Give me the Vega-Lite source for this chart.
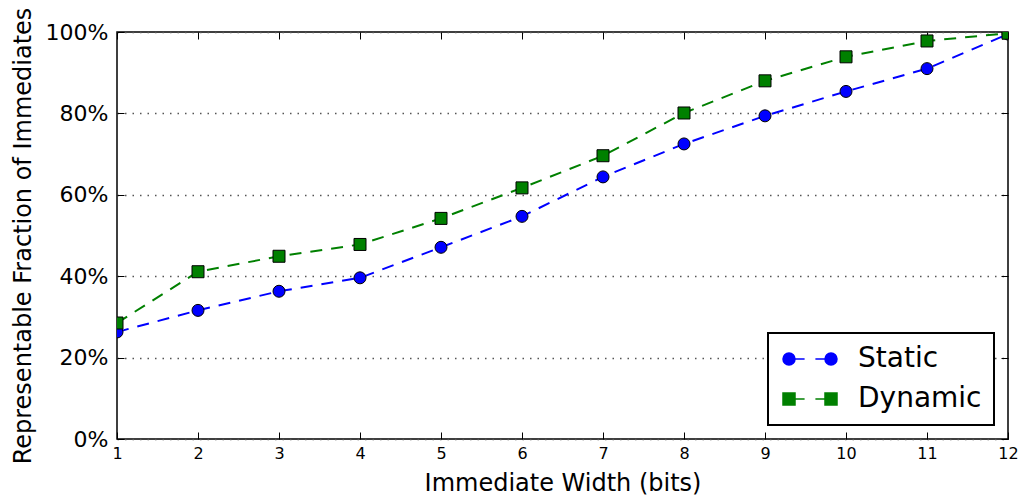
{
  "$schema": "https://vega.github.io/schema/vega-lite/v6.json",
  "autosize": {"type": "none"},
  "padding": {"left": 117, "top": 32, "right": 16, "bottom": 59},
  "width": 891,
  "height": 407,
  "config": {
    "font": "DejaVu Sans",
    "view": {"stroke": "black", "strokeWidth": 1.5},
    "axis": {"domain": false, "tickColor": "black", "tickWidth": 1, "labelColor": "black", "titleColor": "black", "labelFont": "DejaVu Sans", "titleFont": "DejaVu Sans", "titleFontWeight": "normal", "labelFlush": false}
  },
  "data": {
    "values": [
      {"w": 1, "series": "Static", "v": 0.263},
      {"w": 2, "series": "Static", "v": 0.316},
      {"w": 3, "series": "Static", "v": 0.363},
      {"w": 4, "series": "Static", "v": 0.396},
      {"w": 5, "series": "Static", "v": 0.471},
      {"w": 6, "series": "Static", "v": 0.547},
      {"w": 7, "series": "Static", "v": 0.644},
      {"w": 8, "series": "Static", "v": 0.725},
      {"w": 9, "series": "Static", "v": 0.794},
      {"w": 10, "series": "Static", "v": 0.854},
      {"w": 11, "series": "Static", "v": 0.910},
      {"w": 12, "series": "Static", "v": 0.995},
      {"w": 1, "series": "Dynamic", "v": 0.285},
      {"w": 2, "series": "Dynamic", "v": 0.411},
      {"w": 3, "series": "Dynamic", "v": 0.449},
      {"w": 4, "series": "Dynamic", "v": 0.478},
      {"w": 5, "series": "Dynamic", "v": 0.542},
      {"w": 6, "series": "Dynamic", "v": 0.617},
      {"w": 7, "series": "Dynamic", "v": 0.696},
      {"w": 8, "series": "Dynamic", "v": 0.801},
      {"w": 9, "series": "Dynamic", "v": 0.880},
      {"w": 10, "series": "Dynamic", "v": 0.939},
      {"w": 11, "series": "Dynamic", "v": 0.978},
      {"w": 12, "series": "Dynamic", "v": 0.997}
    ]
  },
  "resolve": {"axis": {"x": "independent", "y": "independent"}},
  "layer": [
    {
      "mark": {"type": "line", "strokeDash": [12, 9], "strokeWidth": 2, "clip": true},
      "encoding": {
        "x": {"field": "w", "type": "quantitative", "scale": {"domain": [1, 12], "nice": false, "zero": false},
          "axis": {"orient": "bottom", "title": "Immediate Width (bits)", "values": [1,2,3,4,5,6,7,8,9,10,11,12], "tickSize": -7, "labelPadding": 13, "labelFontSize": 16, "titleFontSize": 24, "titlePadding": 10, "grid": false}},
        "y": {"field": "v", "type": "quantitative", "scale": {"domain": [0, 1], "nice": false},
          "axis": {"orient": "left", "title": "Representable Fraction of Immediates", "format": ".0%", "values": [0, 0.2, 0.4, 0.6, 0.8, 1], "tickSize": -7, "labelPadding": 16, "labelFontSize": 22, "titleFontSize": 24, "titlePadding": 10, "grid": true, "gridColor": "#555", "gridDash": [1.5, 6], "gridWidth": 1.5}},
        "color": {"field": "series", "type": "nominal", "scale": {"domain": ["Static", "Dynamic"], "range": ["#0000ff", "#008000"]},
          "legend": {"title": null, "orient": "none", "legendX": 651, "legendY": 301, "fillColor": "white", "strokeColor": "black", "padding": 12, "rowPadding": 12, "symbolOffset": 16, "labelOffset": 34, "labelFontSize": 28, "labelFont": "DejaVu Sans", "labelColor": "black", "symbolSize": 144,
            "encode": {
              "legend": {"update": {"strokeWidth": {"value": 2}}},
              "symbols": {"update": {
              "shape": {"signal": "datum.value === 'Static' ? 'M-4.5,0A1,1,0,1,0,-2.5,0A1,1,0,1,0,-4.5,0ZM-2.5,0L-0.9,0M0.9,0L2.5,0M2.5,0A1,1,0,1,0,4.5,0A1,1,0,1,0,2.5,0Z' : 'M-4.5,-1L-2.5,-1L-2.5,1L-4.5,1ZM-2.5,0L-0.9,0M0.9,0L2.5,0M2.5,-1L4.5,-1L4.5,1L2.5,1Z'"},
              "fill": {"signal": "datum.value === 'Static' ? '#0000ff' : '#008000'"},
              "stroke": {"signal": "datum.value === 'Static' ? '#0000ff' : '#008000'"},
              "strokeWidth": {"value": 1.5},
              "strokeDash": {"value": []},
              "opacity": {"value": 1},
              "fillOpacity": {"value": 1}
            }}}}}
      }
    },
    {
      "transform": [{"filter": "datum.series === 'Static'"}],
      "mark": {"type": "point", "shape": "circle", "filled": true, "stroke": "black", "strokeWidth": 1, "opacity": 1, "clip": true, "size": 144},
      "encoding": {
        "x": {"field": "w", "type": "quantitative", "axis": {"orient": "top", "title": null, "labels": false, "values": [1,2,3,4,5,6,7,8,9,10,11,12], "tickSize": -7, "grid": false}},
        "y": {"field": "v", "type": "quantitative", "axis": {"orient": "right", "title": null, "labels": false, "values": [0, 0.2, 0.4, 0.6, 0.8, 1], "tickSize": -7, "grid": false}},
        "color": {"field": "series", "type": "nominal"}
      }
    },
    {
      "transform": [{"filter": "datum.series === 'Dynamic'"}],
      "mark": {"type": "point", "shape": "square", "filled": true, "stroke": "black", "strokeWidth": 1, "opacity": 1, "clip": true, "size": 144},
      "encoding": {
        "x": {"field": "w", "type": "quantitative", "axis": null},
        "y": {"field": "v", "type": "quantitative", "axis": null},
        "color": {"field": "series", "type": "nominal"}
      }
    }
  ]
}
